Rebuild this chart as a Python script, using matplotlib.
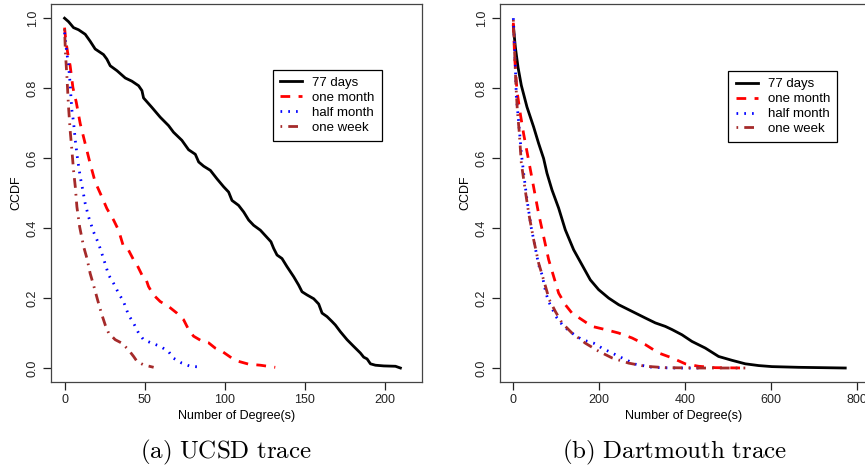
import numpy as np
import matplotlib
matplotlib.use("Agg")
import matplotlib.pyplot as plt

plt.rcParams.update(
    {
        "font.family": "Liberation Sans",
        "font.size": 9,
        "mathtext.fontset": "cm",
        "axes.edgecolor": "#444444",
        "xtick.color": "#222222",
        "ytick.color": "#222222",
        "xtick.labelcolor": "#222222",
        "ytick.labelcolor": "#222222",
    }
)

# %% data (degree, CCDF)
# UCSD trace
ucsd_77_x = [0, 2.5, 5.6, 8.7, 12.9, 16, 19.1, 24.3, 26.4, 28.5, 32.7, 37.9, 42, 46.2, 48.3, 49.3,
             54.5, 59.7, 64.9, 68, 73.2, 77.4, 81.6, 83.7, 86.8, 91, 95.1, 99.3, 102.4, 104.5,
             108.6, 111.8, 114.9, 118, 122.2, 126.4, 128.8, 130.5, 132.6, 135.7, 138.8, 143,
             146.1, 148.2, 151.3, 155.5, 158.6, 160.7, 163.8, 166.9, 169, 172.1, 176.3, 180.4,
             184.6, 186.7, 188.8, 190.9, 194, 199.2, 206.5, 209.6]
ucsd_77_y = [1.0, 0.99, 0.973, 0.967, 0.954, 0.934, 0.912, 0.896, 0.883, 0.864, 0.85, 0.829, 0.82,
             0.807, 0.793, 0.772, 0.745, 0.717, 0.693, 0.674, 0.651, 0.624, 0.611, 0.589, 0.577,
             0.565, 0.541, 0.518, 0.503, 0.479, 0.465, 0.446, 0.423, 0.408, 0.394, 0.373, 0.361,
             0.342, 0.323, 0.313, 0.29, 0.261, 0.237, 0.218, 0.209, 0.198, 0.183, 0.157, 0.147,
             0.133, 0.123, 0.104, 0.081, 0.062, 0.043, 0.031, 0.026, 0.012, 0.008, 0.006, 0.005, 0.0]

ucsd_month_x = [0, 0.8, 2.1, 3.5, 5.2, 7.3, 9.8, 12.9, 16, 19.1, 23.3, 26.4, 30.6, 33.7, 36.8,
                39.9, 43.1, 45.2, 48.3, 50.3, 52.4, 55.5, 59.7, 64.9, 70.1, 74.3, 77.4, 80.5,
                85.7, 89.9, 94, 98.2, 104.5, 108.6, 114.9, 122.2, 131.5]
ucsd_month_y = [0.973, 0.935, 0.897, 0.864, 0.802, 0.76, 0.698, 0.641, 0.584, 0.532, 0.489, 0.456,
                0.423, 0.394, 0.347, 0.337, 0.309, 0.295, 0.266, 0.261, 0.233, 0.209, 0.19, 0.176,
                0.157, 0.138, 0.11, 0.091, 0.077, 0.072, 0.057, 0.048, 0.028, 0.019, 0.011, 0.008,
                0.002]

ucsd_half_x = [0, 1, 2.5, 3.5, 4, 4.6, 5.6, 6.7, 8.1, 9.8, 11.2, 12.9, 15, 18.1, 21.2, 24.3, 27.5,
               30.6, 33.7, 36.8, 39.9, 43.1, 46.2, 49.3, 54.5, 59.7, 64.9, 68, 73.2, 78.4, 84.2]
ucsd_half_y = [0.959, 0.916, 0.864, 0.812, 0.774, 0.736, 0.703, 0.651, 0.598, 0.546, 0.513, 0.47,
               0.432, 0.389, 0.356, 0.313, 0.266, 0.242, 0.214, 0.19, 0.152, 0.128, 0.1, 0.081,
               0.071, 0.062, 0.047, 0.028, 0.014, 0.005, 0.003]

ucsd_week_x = [0, 0.6, 1.5, 2.5, 3.5, 4.6, 5.6, 6.7, 7.7, 9.4, 11.9, 14, 16, 18.1, 20.6, 23.3,
               25.4, 27.5, 31.6, 35.8, 39.9, 43.1, 45.2, 49.3, 55.6]
ucsd_week_y = [0.969, 0.897, 0.831, 0.745, 0.679, 0.622, 0.565, 0.518, 0.461, 0.404, 0.347, 0.313,
               0.27, 0.237, 0.195, 0.152, 0.123, 0.1, 0.081, 0.071, 0.052, 0.033, 0.019, 0.009,
               0.002]

# Dartmouth trace
dart_77_x = [0, 4.7, 10.9, 18.6, 31.8, 47.3, 58.9, 70.5, 78.3, 90, 105.5, 121, 140.4, 159.8,
             179.2, 198.6, 221.9, 245.2, 276.2, 307.2, 330.5, 353.8, 369.3, 392.6, 415.8, 446.9,
             477.9, 509, 540, 571, 602, 664, 772.7]
dart_77_y = [0.978, 0.917, 0.86, 0.808, 0.746, 0.689, 0.642, 0.599, 0.557, 0.509, 0.457, 0.395,
             0.338, 0.295, 0.252, 0.224, 0.2, 0.181, 0.162, 0.143, 0.129, 0.119, 0.11, 0.095,
             0.076, 0.057, 0.033, 0.022, 0.012, 0.007, 0.004, 0.002, 0.0]

dart_month_x = [0, 3.1, 8.5, 16.3, 24, 35.7, 47.3, 58.9, 70.5, 82.2, 93.8, 105.5, 121, 136.5,
                159.8, 183, 214, 245.2, 276.2, 307.2, 338.2, 369.3, 400.3, 431.3, 470, 540]
dart_month_y = [0.987, 0.888, 0.792, 0.726, 0.669, 0.593, 0.517, 0.441, 0.376, 0.31, 0.262,
                0.214, 0.181, 0.157, 0.138, 0.119, 0.11, 0.1, 0.086, 0.067, 0.043, 0.029, 0.012,
                0.005, 0.001, 0.0]

dart_half_x = [0, 2.3, 4.7, 7, 10.9, 14.7, 18.6, 24, 31.8, 41.9, 51.2, 58.9, 66.7, 76, 82.2,
               91.5, 101.6, 117.1, 136.5, 159.8, 187, 206.4, 229.6, 252.9, 284, 322.7, 369, 431]
dart_half_y = [1.0, 0.938, 0.862, 0.776, 0.724, 0.671, 0.614, 0.557, 0.481, 0.4, 0.343, 0.295,
               0.267, 0.214, 0.19, 0.167, 0.143, 0.119, 0.1, 0.081, 0.071, 0.057, 0.043, 0.029,
               0.011, 0.002, 0.0, 0.0]

dart_week_x = [0, 3.1, 6.2, 9.3, 14, 18.6, 26.4, 35.7, 47.3, 58.9, 70.5, 83.8, 97.7, 113.2,
               136.5, 167.6, 198.6, 229.6, 268.4, 307.2, 353.8, 431.3, 493.4, 540]
dart_week_y = [0.995, 0.9, 0.805, 0.738, 0.671, 0.586, 0.519, 0.443, 0.367, 0.3, 0.252, 0.195,
               0.162, 0.129, 0.1, 0.071, 0.048, 0.029, 0.014, 0.005, 0.001, 0.0, 0.0, 0.0]

labels = ["77 days", "one month", "half month", "one week"]
colors = ["black", "#FF0000", "#0000FF", "#A52A2A"]
styles = ["-", (0, (3.5, 3.0)), (0, (0.6, 2.2)), (0, (0.6, 2.2, 3.5, 2.2))]

panels = [
    {
        "series": [(ucsd_77_x, ucsd_77_y), (ucsd_month_x, ucsd_month_y),
                   (ucsd_half_x, ucsd_half_y), (ucsd_week_x, ucsd_week_y)],
        "xlim": (-8.6, 223.1),
        "xticks": [0, 50, 100, 150, 200],
        "rect": [0.0587, 0.182, 0.4292, 0.809],
        "leg": (0.598, 0.827),
        "caption": "(a) UCSD trace",
        "cap_x": 226 / 865,
    },
    {
        "series": [(dart_77_x, dart_77_y), (dart_month_x, dart_month_y),
                   (dart_half_x, dart_half_y), (dart_week_x, dart_week_y)],
        "xlim": (-31.7, 823.7),
        "xticks": [0, 200, 400, 600, 800],
        "rect": [0.5777, 0.182, 0.4248, 0.809],
        "leg": (0.622, 0.8235),
        "caption": "(b) Dartmouth trace",
        "cap_x": 675 / 865,
    },
]

fig = plt.figure(figsize=(8.65, 4.67), dpi=100)

for p in panels:
    ax = fig.add_axes(p["rect"])
    for (xs, ys), lab, col, ls in zip(p["series"], labels, colors, styles):
        ax.plot(xs, ys, color=col, linestyle=ls, linewidth=2, label=lab)

    ax.set_xlim(*p["xlim"])
    ax.set_ylim(-0.04, 1.04)
    ax.set_xticks(p["xticks"])
    ax.set_yticks([0.0, 0.2, 0.4, 0.6, 0.8, 1.0])
    ax.set_yticklabels(["0.0", "0.2", "0.4", "0.6", "0.8", "1.0"], rotation=90, va="center")
    ax.tick_params(direction="out", length=5.5, width=0.9, pad=3)
    for spine in ax.spines.values():
        spine.set_linewidth(0.9)
    ax.set_xlabel("Number of Degree(s)", labelpad=3)
    ax.set_ylabel("CCDF", labelpad=3)

    leg = ax.legend(loc="upper left", bbox_to_anchor=p["leg"], borderaxespad=0,
                    fancybox=False, edgecolor="black", framealpha=1, handlelength=1.7,
                    handletextpad=0.75, labelspacing=0.2, borderpad=0.55, fontsize=9.5)
    leg.get_frame().set_linewidth(0.9)

    fig.text(p["cap_x"], 1 - 452 / 467, r"$\mathrm{" + p["caption"].replace(" ", r"\ ") + "}$",
             ha="center", va="center", fontsize=18)

fig.savefig("out.png", dpi=100)
